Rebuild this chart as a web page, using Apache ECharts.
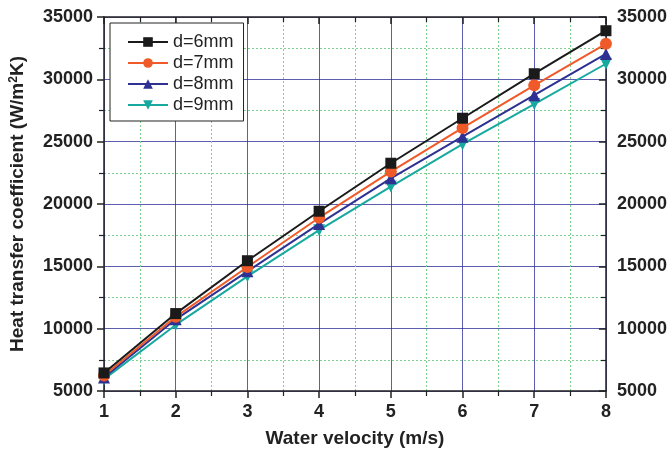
<!DOCTYPE html>
<html>
<head>
<meta charset="utf-8">
<script src="https://cdn.jsdelivr.net/npm/echarts@6/dist/echarts.min.js"></script>
<style>html,body{margin:0;padding:0;background:#fff;}#c{width:670px;height:453px;}</style>
</head>
<body>
<div id="c"></div>
<script>
const velocity = [1, 2, 3, 4, 5, 6, 7, 8];
const d6 = [6450, 11210, 15450, 19420, 23270, 26880, 30450, 33900];
const d7 = [6250, 10950, 14950, 18900, 22600, 26100, 29520, 32850];
const d8 = [6080, 10750, 14600, 18400, 22060, 25400, 28730, 32040];
const d9 = [5950, 10300, 14200, 17900, 21400, 24800, 28020, 31250];
const seriesNames = ['d=6mm', 'd=7mm', 'd=8mm', 'd=9mm'];
const seriesColors = ['#1a1a1a', '#f05a28', '#2e3192', '#17a99f'];
const seriesSymbols = ['rect', 'circle', 'triangle', 'path://M0,0 L10,0 L5,10 Z'];

const font = 'Liberation Sans, Arial, sans-serif';
const allData = [d6, d7, d8, d9];
const chart = echarts.init(document.getElementById('c'));
const labelStyle = {fontFamily: font, fontWeight: 'bold', fontSize: 18, color: '#222', formatter: v => String(v)};
const axisLine = {show: true, lineStyle: {color: '#222', width: 1.5}};
const majorGrid = {show: true, lineStyle: {color: 'rgba(40,40,150,0.75)', width: 1}};
const minorGrid = {show: true, lineStyle: {color: '#7fd090', width: 1, type: [2, 2]}};
const titleStyle = {fontFamily: font, fontWeight: 'bold', fontSize: 19, color: '#222'};

chart.setOption({
  animation: false,
  backgroundColor: '#fff',
  grid: {left: 104, right: 58, top: 17, bottom: 58, containLabel: false},
  legend: {
    left: 110, top: 23, orient: 'vertical',
    data: seriesNames,
    borderColor: '#222', borderWidth: 1, padding: [10, 10, 7, 17],
    itemGap: 3, itemWidth: 40, itemHeight: 12,
    textStyle: {fontFamily: font, fontSize: 18, color: '#222'},
    backgroundColor: '#fff'
  },
  xAxis: [{
    type: 'value', min: 1, max: 8, interval: 1, position: 'bottom',
    axisLine: axisLine,
    axisTick: {show: true, inside: false, length: 7, lineStyle: {color: '#222', width: 1.5}},
    minorTick: {show: true, splitNumber: 2, length: 5, lineStyle: {color: '#222', width: 1.2}},
    axisLabel: Object.assign({margin: 12}, labelStyle),
    splitLine: majorGrid,
    minorSplitLine: minorGrid,
    name: 'Water velocity (m/s)', nameLocation: 'middle', nameGap: 38,
    nameTextStyle: titleStyle
  }, {
    type: 'value', min: 1, max: 8, interval: 1, position: 'top',
    axisLine: axisLine,
    axisTick: {show: true, inside: true, length: 7, lineStyle: {color: '#222', width: 1.5}},
    minorTick: {show: true, splitNumber: 2, length: 5, lineStyle: {color: '#222', width: 1.2}},
    axisLabel: {show: false},
    splitLine: {show: false}
  }],
  yAxis: [{
    type: 'value', min: 5000, max: 35000, interval: 5000, position: 'left',
    axisLine: axisLine,
    axisTick: {show: true, inside: false, length: 7, lineStyle: {color: '#222', width: 1.5}},
    minorTick: {show: true, splitNumber: 2, length: 5, lineStyle: {color: '#222', width: 1.2}},
    axisLabel: Object.assign({margin: 11}, labelStyle),
    splitLine: majorGrid,
    minorSplitLine: minorGrid,
    name: '{t|Heat transfer coefficient (W/m}{s|2}{t|K)}', nameLocation: 'middle', nameGap: 76, nameRotate: 90,
    nameTextStyle: Object.assign({rich: {t: titleStyle, s: {fontFamily: font, fontWeight: 'bold', fontSize: 12, color: '#222', verticalAlign: 'top', padding: [0, 0, 8, 0]}}}, titleStyle)
  }, {
    type: 'value', min: 5000, max: 35000, interval: 5000, position: 'right',
    axisLine: axisLine,
    axisTick: {show: true, inside: true, length: 7, lineStyle: {color: '#222', width: 1.5}},
    minorTick: {show: true, splitNumber: 2, length: 5, lineStyle: {color: '#222', width: 1.2}},
    axisLabel: Object.assign({margin: 11}, labelStyle),
    splitLine: {show: false}
  }],
  series: seriesNames.map((n, i) => ({
    name: n, type: 'line', xAxisIndex: 0, yAxisIndex: 0,
    data: velocity.map((v, j) => [v, allData[i][j]]),
    symbol: seriesSymbols[i], symbolSize: i === 0 ? 11 : 12, showSymbol: true,
    lineStyle: {color: seriesColors[i], width: 2},
    itemStyle: {color: seriesColors[i]},
    z: 10 - i
  }))
});
</script>
</body>
</html>
